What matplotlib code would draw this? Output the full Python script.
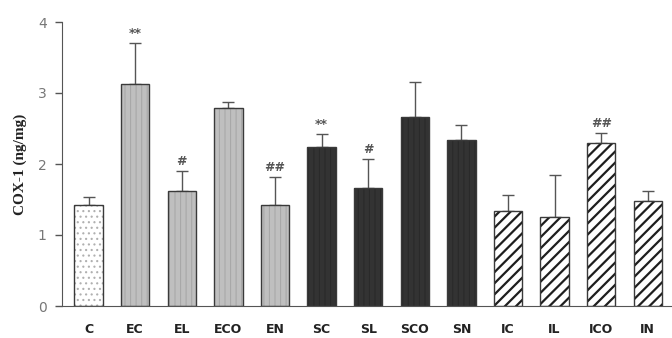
import matplotlib
matplotlib.use("Agg")
import matplotlib.pyplot as plt
import numpy as np

categories = ["C", "EC", "EL", "ECO", "EN", "SC", "SL", "SCO", "SN", "IC", "IL", "ICO", "IN"]
means = [1.42, 3.13, 1.62, 2.79, 1.42, 2.24, 1.66, 2.66, 2.34, 1.34, 1.25, 2.29, 1.48]
errors = [0.12, 0.57, 0.28, 0.08, 0.40, 0.18, 0.41, 0.50, 0.21, 0.22, 0.60, 0.15, 0.14]
marks = ["", "**", "#", "", "##", "**", "#", "", "", "", "", "##", ""]
groups = ["C", "E", "E", "E", "E", "S", "S", "S", "S", "I", "I", "I", "I"]
yticks = [0, 1, 2, 3, 4]

styles = {
    "C": dict(face="white", hatch="...", hatchcol="#b0b0b0", hlw=0.8),
    "E": dict(face="#bfbfbf", hatch="|||", hatchcol="#a8a8a8", hlw=0.8),
    "S": dict(face="#333333", hatch="|||", hatchcol="#2a2a2a", hlw=0.8),
    "I": dict(face="white", hatch="///", hatchcol="#1e1e1e", hlw=1.6),
}

fig = plt.figure(figsize=(6.72, 3.38), dpi=100)
ax = fig.add_axes([62/672, 32/338, 1 - 62/672, (306-22)/338])
x = np.arange(len(categories))
w = 0.61

for i in range(len(categories)):
    st = styles[groups[i]]
    plt.rcParams["hatch.linewidth"] = st["hlw"]
    ax.bar(x[i], means[i], width=w, color=st["face"], edgecolor=st["hatchcol"],
           hatch=st["hatch"], linewidth=0, zorder=2)
    ax.bar(x[i], means[i], width=w, color="none", edgecolor="#3a3a3a",
           linewidth=1.0, zorder=3)
    ax.errorbar(x[i], means[i], yerr=[[0], [errors[i]]], fmt="none",
                ecolor="#555555", elinewidth=1.0, capsize=4, capthick=1.0, zorder=1)
    if marks[i]:
        ax.text(x[i], means[i] + errors[i] + 0.04, marks[i], ha="center", va="bottom",
                fontsize=9, color="#555555", fontweight="bold")

ax.set_xlim(-0.57, 12.52)
ax.set_ylim(0, 4)
ax.set_yticks(yticks)
ax.set_yticklabels([str(t) for t in yticks], fontsize=10, color="#777777")
ax.set_xticks(x)
ax.set_xticklabels(categories, fontsize=9, fontweight="bold", color="#222222")
ax.tick_params(axis="x", length=0, pad=12)
ax.tick_params(axis="y", direction="out", length=5, width=1, color="#555555", pad=6)
for s in ["top", "right"]:
    ax.spines[s].set_visible(False)
ax.spines["left"].set_color("#555555")
ax.spines["bottom"].set_color("#555555")
ax.set_ylabel("COX-1 (ng/mg)", family="Liberation Serif", fontweight="bold",
              fontsize=11, color="#222222", labelpad=8)

fig.savefig("out.png", dpi=100)
